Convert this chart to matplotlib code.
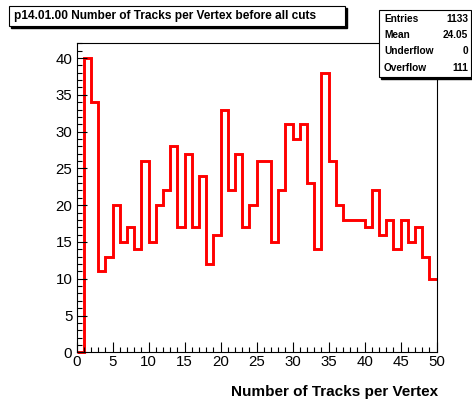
import matplotlib
matplotlib.use("Agg")
import matplotlib.pyplot as plt
from matplotlib.patches import Rectangle
from matplotlib.ticker import MultipleLocator
import numpy as np

plt.rcParams['font.family'] = ['Liberation Sans', 'DejaVu Sans']

# bin edges 0..50, one count per bin
edges = np.arange(0, 51)
counts = [0, 40, 34, 11, 13, 20, 15, 17, 14, 26,
          15, 20, 22, 28, 17, 27, 17, 24, 12, 16,
          33, 22, 27, 17, 20, 26, 26, 15, 22, 31,
          29, 31, 23, 14, 38, 26, 20, 18, 18, 18,
          17, 22, 16, 18, 14, 18, 15, 17, 13, 10]

title = "p14.01.00 Number of Tracks per Vertex before all cuts"
xlabel = "Number of Tracks per Vertex"
stat_names = ["Entries", "Mean", "Underflow", "Overflow"]
stat_values = ["1133", "24.05", "0", "111"]

W, H = 472, 401
fig = plt.figure(figsize=(W / 100, H / 100), dpi=100)

def fx(px):
    return px / W

def fy(py):
    return 1 - py / H

ax = fig.add_axes([fx(76.5), fy(352.3), fx(436.7) - fx(76.5), fy(43.3) - fy(352.3)])
ax.stairs(counts, edges, baseline=None, color='#ff0000', linewidth=2.1, clip_on=False)
ax.set_xlim(0, 50)
ax.set_ylim(0, 42)

ax.xaxis.set_major_locator(MultipleLocator(5))
ax.xaxis.set_minor_locator(MultipleLocator(1))
ax.yaxis.set_major_locator(MultipleLocator(5))
ax.yaxis.set_minor_locator(MultipleLocator(1))
ax.tick_params(which='both', direction='in', top=False, right=False, labelsize=10.8, width=0.8)
ax.tick_params(which='major', length=7.2)
ax.tick_params(which='minor', length=3.6)
ax.tick_params(axis='y', pad=3)
ax.tick_params(axis='x', pad=2)
for s in ax.spines.values():
    s.set_linewidth(0.8)

fig.text(fx(437.7), fy(392), xlabel, ha='right', va='center',
         fontsize=11, fontweight='bold')

# title box with shadow
tx0, ty0, tx1, ty1 = 9, 6, 345, 26
fig.patches.append(Rectangle((fx(tx0 + 2), fy(ty1 + 2)), fx(tx1 - tx0), fy(ty0) - fy(ty1),
                             transform=fig.transFigure, facecolor='black', edgecolor='black'))
fig.patches.append(Rectangle((fx(tx0), fy(ty1)), fx(tx1 - tx0), fy(ty0) - fy(ty1),
                             transform=fig.transFigure, facecolor='white', edgecolor='black', linewidth=0.8))
fig.text(fx(14), fy(16), title, ha='left', va='center', fontsize=8.6, fontweight='bold')

# stats box with shadow
sx0, sy0, sx1, sy1 = 379, 10, 471, 77
fig.patches.append(Rectangle((fx(sx0 + 2), fy(sy1 + 2)), fx(sx1 - sx0), fy(sy0) - fy(sy1),
                             transform=fig.transFigure, facecolor='black', edgecolor='black'))
fig.patches.append(Rectangle((fx(sx0), fy(sy1)), fx(sx1 - sx0), fy(sy0) - fy(sy1),
                             transform=fig.transFigure, facecolor='white', edgecolor='black', linewidth=0.8))
rows_y = [18.5, 35, 51.5, 68]
for name, val, ry in zip(stat_names, stat_values, rows_y):
    fig.text(fx(384), fy(ry), name, ha='left', va='center', fontsize=7.3, fontweight='bold')
    fig.text(fx(468), fy(ry), val, ha='right', va='center', fontsize=7.3, fontweight='bold')

fig.savefig('out.png', dpi=100)
